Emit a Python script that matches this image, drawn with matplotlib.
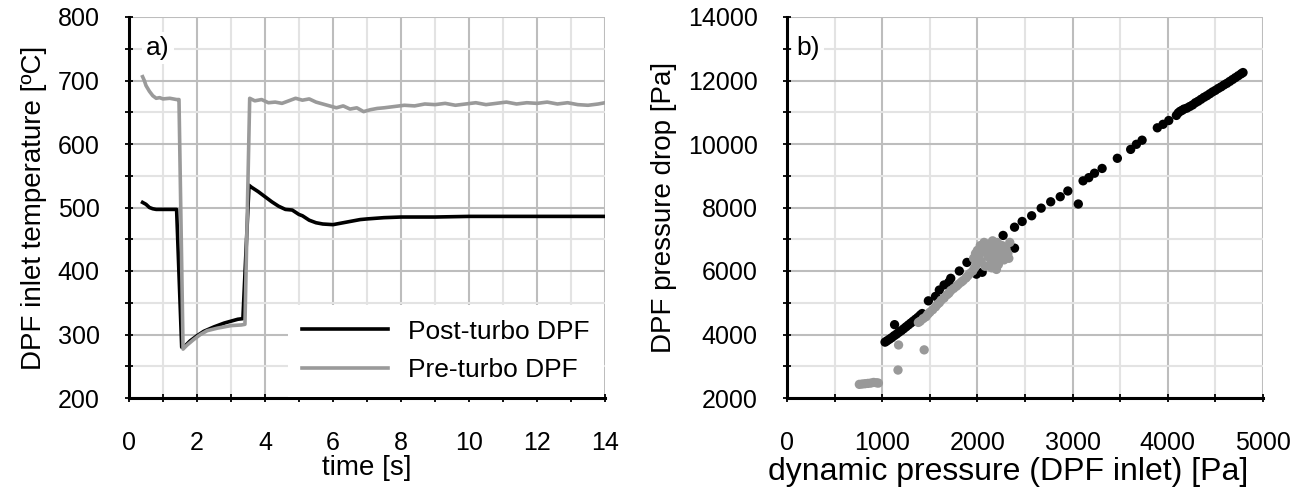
import matplotlib.pyplot as plt
from matplotlib.ticker import MultipleLocator

plt.rcParams['font.family'] = ['Liberation Sans', 'DejaVu Sans']

# panel a) time traces
t_post = [0.4, 0.5, 0.6, 0.7, 0.8, 1.0, 1.2, 1.4, 1.55, 1.65, 1.8, 2.0, 2.2, 2.5,
          2.8, 3.0, 3.2, 3.35, 3.53, 3.6, 3.8, 4.0, 4.2, 4.4, 4.6, 4.8, 5.0, 5.1,
          5.3, 5.5, 5.7, 6.0, 6.2, 6.5, 6.8, 7.0, 7.5, 8.0, 9.0, 10.0, 11.0, 12.0,
          13.0, 14.0]
T_post = [508, 505, 500, 498, 497, 497, 497, 497, 280, 282, 290, 298, 305, 312,
          318, 321, 324, 325, 535, 532, 525, 517, 509, 502, 497, 496, 489, 487,
          480, 476, 474, 473, 475, 478, 481, 482, 484, 485, 485, 486, 486, 486,
          486, 486]

t_pre = [0.4, 0.45, 0.5, 0.6, 0.7, 0.8, 0.9, 1.0, 1.2, 1.4, 1.47, 1.59, 1.7, 1.9,
         2.1, 2.3, 2.6, 3.0, 3.3, 3.41, 3.55, 3.7, 3.9, 4.1, 4.3, 4.5, 4.7, 4.9,
         5.1, 5.3, 5.5, 5.7, 5.9, 6.1, 6.3, 6.5, 6.7, 6.9, 7.1, 7.3, 7.5, 7.8, 8.1,
         8.4, 8.7, 9.0, 9.3, 9.6, 9.9, 10.2, 10.5, 10.8, 11.1, 11.4, 11.7, 12.0,
         12.3, 12.6, 12.9, 13.2, 13.5, 13.8, 14.0]
T_pre = [706, 700, 692, 683, 676, 672, 673, 671, 672, 670, 670, 277, 283, 292,
         300, 306, 310, 314, 315, 316, 672, 668, 670, 665, 666, 664, 668, 672,
         669, 671, 666, 663, 660, 657, 660, 655, 657, 651, 654, 656, 657, 659, 661,
         660, 663, 662, 664, 661, 663, 665, 662, 664, 666, 663, 665, 664, 666,
         663, 665, 662, 661, 663, 665]

# panel b) scatter, post-turbo (black)
dp_post = [1030, 1050, 1075, 1100, 1125, 1150, 1175, 1200, 1225, 1250, 1275, 1300,
           1325, 1350, 1375, 1400, 1420, 1130, 1485, 1560, 1600, 1650, 1700, 1720,
           1810, 1890, 1990, 2050, 2270, 2390, 2390, 2470, 2570, 2670, 2770, 2870,
           2950, 3060, 3110, 3170, 3230, 3310, 3470, 3610, 3670, 3730, 3890, 3950,
           4010, 4090, 4110, 4130, 4150, 4170, 4200, 4230, 4260, 4290, 4320, 4350,
           4380, 4410, 4440, 4470, 4500, 4530, 4560, 4590, 4620, 4650, 4680, 4710,
           4740, 4770, 4790]
drop_post = [3760, 3800, 3850, 3900, 3960, 4010, 4070, 4120, 4180, 4240, 4300, 4360,
             4420, 4480, 4540, 4610, 4660, 4310, 5060, 5200, 5400, 5560, 5650, 5770,
             6000, 6270, 5900, 5960, 7120, 6720, 7380, 7560, 7740, 7980, 8180, 8340,
             8520, 8110, 8840, 8940, 9080, 9230, 9550, 9830, 9990, 10120, 10510, 10620,
             10740, 10900, 10980, 11030, 11060, 11100, 11130, 11180, 11230, 11300,
             11350, 11410, 11470, 11520, 11580, 11640, 11690, 11750, 11800, 11860,
             11910, 11970, 12030, 12090, 12150, 12210, 12250]

# panel b) scatter, pre-turbo (grey)
dp_pre = [760, 790, 820, 850, 880, 910, 940, 960, 1172, 1166, 1441,
          1380, 1400, 1430, 1460, 1480, 1500, 1530, 1560, 1580, 1600, 1620, 1650,
          1680, 1700, 1720, 1750, 1780, 1800, 1830, 1850, 1880, 1900, 1920, 1950,
          1970, 1990, 1960, 1980, 2000, 2010, 2030, 2040, 2060, 2070, 2080, 2100,
          2110, 2120, 2140, 2150, 2160, 2180, 2190, 2200, 2210, 2220, 2240, 2250,
          2260, 2270, 2280, 2300, 2320, 2340, 2200, 2150, 2330]
drop_pre = [2430, 2440, 2450, 2460, 2470, 2490, 2480, 2470, 3670, 2880, 3516,
            4380, 4420, 4500, 4560, 4640, 4700, 4780, 4870, 4950, 5000, 5080, 5150,
            5250, 5300, 5380, 5450, 5520, 5580, 5650, 5700, 5780, 5850, 5920, 6000,
            6100, 6200, 6400, 6550, 6650, 6450, 6800, 6300, 6600, 6900, 6150, 6700,
            6450, 6850, 6250, 6600, 6950, 6400, 6750, 6550, 6900, 6200, 6650, 6450,
            6800, 6600, 6350, 6700, 6550, 6900, 6050, 6100, 6400]

W, H = 1303, 497
fig = plt.figure(figsize=(W / 100, H / 100), dpi=100)
ax1 = fig.add_axes([129 / W, (H - 398) / H, 476 / W, 381 / H])
ax2 = fig.add_axes([787 / W, (H - 398) / H, 476 / W, 381 / H])


def style(ax, xmaj, xmin, ymaj, ymin):
    ax.xaxis.set_major_locator(MultipleLocator(xmaj))
    ax.xaxis.set_minor_locator(MultipleLocator(xmin))
    ax.yaxis.set_major_locator(MultipleLocator(ymaj))
    ax.yaxis.set_minor_locator(MultipleLocator(ymin))
    ax.grid(which='major', color='#bdbdbd', lw=1.5, zorder=0)
    ax.grid(which='minor', color='#e3e3e3', lw=1.5, zorder=0)
    ax.set_axisbelow(True)
    for s in ['top', 'right']:
        ax.spines[s].set_visible(False)
    for s in ['left', 'bottom']:
        ax.spines[s].set_linewidth(2.2)
    ax.tick_params(which='both', direction='inout', length=6, width=1.3,
                   labelsize=18)
    ax.tick_params(axis='x', pad=21)
    ax.tick_params(axis='y', pad=18)


ax1.plot(t_post, T_post, color='black', lw=2.6, label='Post-turbo DPF', zorder=3)
ax1.plot(t_pre, T_pre, color='#9a9a9a', lw=2.6, label='Pre-turbo DPF', zorder=3)
ax1.set_xlim(0, 14)
ax1.set_ylim(200, 800)
style(ax1, 2, 1, 100, 50)
ax1.set_xlabel('time [s]', fontsize=20, labelpad=0)
ax1.set_ylabel('DPF inlet temperature [ºC]', fontsize=20, labelpad=8)
ax1.text(0.036, 0.919, 'a)', transform=ax1.transAxes, fontsize=19, va='center',
         bbox=dict(facecolor='white', edgecolor='none', pad=3), zorder=4)
leg = ax1.legend(loc='lower right', fontsize=19, handlelength=3.25, handletextpad=0.75,
                 borderaxespad=0.05, fancybox=False, framealpha=1,
                 edgecolor='none', labelspacing=0.55, borderpad=0.55)
leg.set_zorder(5)

ax2.scatter(dp_post, drop_post, s=45, color='black', edgecolors='none', zorder=3)
ax2.scatter(dp_pre, drop_pre, s=45, color='#999999', edgecolors='none', zorder=4)
ax2.set_xlim(0, 5000)
ax2.set_ylim(2000, 14000)
style(ax2, 1000, 500, 2000, 1000)
ax2.set_xlabel('dynamic pressure (DPF inlet) [Pa]', fontsize=23, labelpad=1)
ax2.xaxis.label.set_x(0.464)
ax2.set_ylabel('DPF pressure drop [Pa]', fontsize=20, labelpad=8)
ax2.text(0.02, 0.919, 'b)', transform=ax2.transAxes, fontsize=19, va='center',
         bbox=dict(facecolor='white', edgecolor='none', pad=3), zorder=5)

fig.savefig('out.png', dpi=100)
